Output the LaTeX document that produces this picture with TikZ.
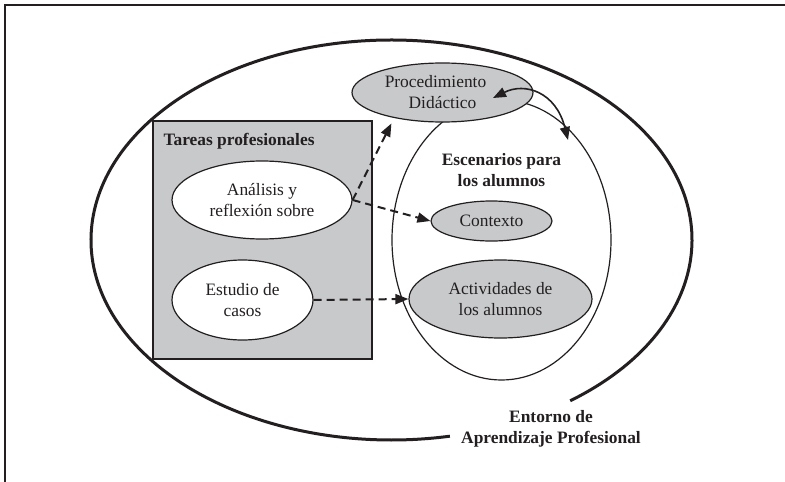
\documentclass[tikz,border=0pt]{standalone}
\usepackage{fontspec}
\setmainfont{Liberation Serif}
\usetikzlibrary{arrows.meta,calc,shapes.geometric}
\definecolor{boxgray}{RGB}{200,201,203}
\definecolor{ink}{RGB}{35,31,32}
\begin{document}
\begin{tikzpicture}[x=1pt,y=-1pt,
  every node/.style={font=\fontsize{17.4}{21}\selectfont, text=ink, align=center},
  bubble/.style={ellipse, draw=ink, line width=1.2pt, inner sep=0pt},
  whitebubble/.style={bubble, fill=white},
  graybubble/.style={bubble, fill=boxgray},
  dasharrow/.style={draw=ink, line width=2pt, dash pattern=on 8pt off 5pt, -{Triangle[length=13pt,width=10pt]}},
  bold/.style={font=\fontsize{17.4}{21}\selectfont\bfseries}
]
\useasboundingbox (0,0) rectangle (785,482);
\fill[white] (0,0) rectangle (785,482);
% frame
\draw[ink, line width=1.5pt] (5,482) -- (5,5) -- (785,5);
% outer ellipse with gap
\coordinate (oc) at (391.5,240);
\draw[ink, line width=3pt] ([shift={(-53.5:300.5pt and 200pt)}]oc) arc[start angle=-53.5, end angle=281.2, x radius=300.5pt, y radius=200pt];
% tasks box
\node[draw=ink, fill=boxgray, line width=1.2pt, minimum width=219pt, minimum height=238pt, inner sep=0pt] (box) at (262.5,240) {};
\node[bold, anchor=base west] (boxlbl) at (160,145) {Tareas profesionales};
\node[whitebubble, minimum width=180pt, minimum height=78pt] (ana) at (262,200) {Análisis y\\reflexión sobre};
\node[whitebubble, minimum width=141pt, minimum height=80pt] (est) at (242.5,300) {Estudio de\\casos};
% scenarios ellipse
\node[bubble, fill=white, minimum width=219pt, minimum height=280pt] (esc) at (501.5,240) {};
\node[bold] (esclbl) at (501.5,170) {Escenarios para\\los alumnos};
\node[graybubble, minimum width=181pt, minimum height=59pt] (proc) at (442.5,92.5) {\hspace*{-14pt}Procedimiento\\Didáctico};
\node[graybubble, minimum width=121pt, minimum height=40pt] (ctx) at (491.5,221) {Contexto};
\node[graybubble, minimum width=183pt, minimum height=78pt] (act) at (500.5,299) {Actividades de\\los alumnos};
% label of environment
\node[bold] (envlbl) at (551,429) {Entorno de\\Aprendizaje Profesional};
% dashed arrows
\draw[dasharrow] (ana.east) -- ([yshift=-6pt]proc.206);
\draw[dasharrow] (ana.east) -- (ctx.west);
\draw[dasharrow] (est.east) -- (act.west);
% curved double arrow
\coordinate (ca) at (568,140);
\coordinate (cb) at (493,98);
\draw[ink, line width=1.6pt, {Triangle[length=13pt,width=10pt]}-{Triangle[length=13pt,width=10pt]}] (cb) .. controls (525,82) and (556,92) .. (ca);
\end{tikzpicture}
\end{document}
